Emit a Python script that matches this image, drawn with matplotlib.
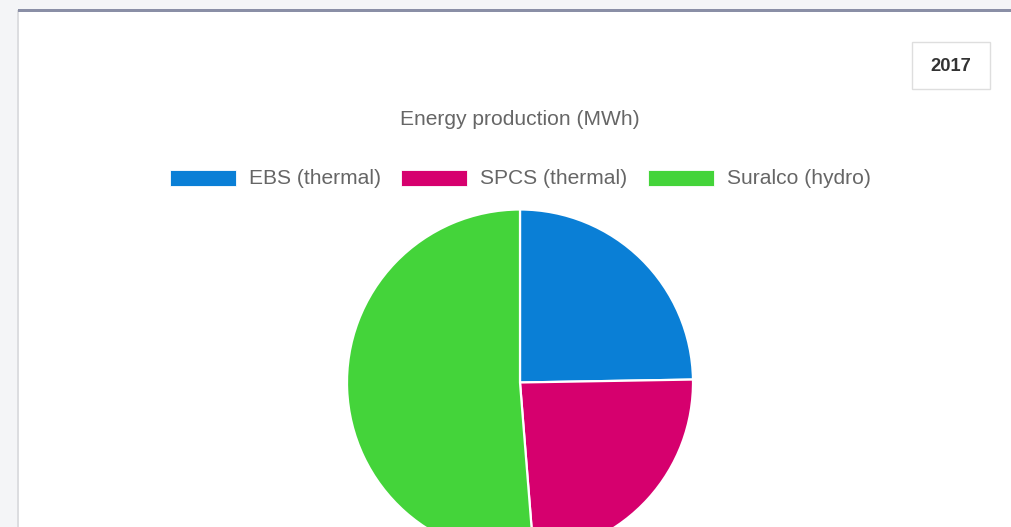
"""Energy production pie card (2017), drawn to match the dashboard screenshot."""

import matplotlib.pyplot as plt
from matplotlib.patches import Rectangle

W, H, DPI = 1012, 527, 100

YEAR = "2017"
TITLE = "Energy production (MWh)"
LABELS = ["EBS (thermal)", "SPCS (thermal)", "Suralco (hydro)"]
PRODUCTION_MWH = [410000, 398000, 850000]
COLORS = ["#0a7fd6", "#d6006e", "#44d43a"]

TEXT_GREY = "#666666"
PAGE_BG = "#f4f5f7"
BORDER_TOP = "#8a8fa6"
FONT = ["Liberation Sans", "DejaVu Sans"]

plt.rcParams.update({"font.family": FONT})

fig = plt.figure(figsize=(W / DPI, H / DPI), dpi=DPI, facecolor=PAGE_BG)

# page / card decoration in pixel coordinates (y grows downwards)
bg = fig.add_axes([0, 0, 1, 1])
bg.set_xlim(0, W)
bg.set_ylim(H, 0)
bg.axis("off")
bg.add_patch(Rectangle((18, 10), W - 18, H - 10, facecolor="white",
                       edgecolor="none", zorder=1))
bg.add_patch(Rectangle((17.5, 10), 1.2, H, facecolor="#dcdde0",
                       edgecolor="none", zorder=2))
bg.add_patch(Rectangle((18, 9), W - 18, 3.2, facecolor=BORDER_TOP,
                       edgecolor="none", zorder=3))

# year selector box
bg.add_patch(Rectangle((912, 42), 78, 47, facecolor="white",
                       edgecolor="#dedede", linewidth=1.0, zorder=3))
bg.text(951, 66.5, YEAR, ha="center", va="center", fontsize=13.2,
        color="#333333", weight="bold", zorder=4)

# title
bg.text(520, 119.5, TITLE, ha="center", va="center", fontsize=15.1,
        color=TEXT_GREY, zorder=4)

# legend
box_x = [170, 401, 648]
for x, lab, col in zip(box_x, LABELS, COLORS):
    bg.add_patch(Rectangle((x, 170), 66, 16, facecolor=col,
                           edgecolor="white", linewidth=0.6, zorder=4))
    bg.text(x + 79, 178.5, lab, ha="left", va="center", fontsize=15.1,
            color=TEXT_GREY, zorder=4)

# pie: centre (520, 382.5) px, radius 173 px
cx, cy, r = 520, 382.5, 173
ax = fig.add_axes([(cx - r) / W, (H - cy - r) / H, 2 * r / W, 2 * r / H])
ax.pie(PRODUCTION_MWH, colors=COLORS, startangle=90, counterclock=False,
       radius=1.0, wedgeprops=dict(edgecolor="white", linewidth=1.6))
ax.set_xlim(-1.0, 1.0)
ax.set_ylim(-1.0, 1.0)
ax.set_aspect("equal")
ax.axis("off")

fig.savefig("out.png", dpi=DPI, facecolor=PAGE_BG)
